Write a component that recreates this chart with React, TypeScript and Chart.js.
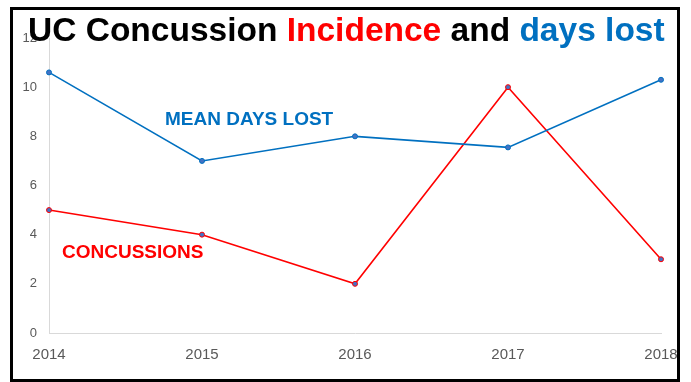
import React, { useEffect, useRef } from "react";
import { Chart, registerables } from "chart.js";

Chart.register(...registerables);

const years = ["2014", "2015", "2016", "2017", "2018"];
const meanDaysLost = [10.6, 7, 8, 7.55, 10.3];
const concussions = [5, 4, 2, 10, 3];
const yTicks = { min: 0, max: 12, step: 2 };

const titleParts: [string, string][] = [
  ["UC Concussion ", "#000000"],
  ["Incidence", "#FF0000"],
  [" and ", "#000000"],
  ["days lost", "#0070C0"],
];

const BLUE = "#0070C0";
const RED = "#FF0000";

const overlayPlugin = {
  id: "overlayText",
  afterDraw(chart: any) {
    const ctx = chart.ctx;
    ctx.save();
    ctx.textBaseline = "alphabetic";
    ctx.textAlign = "left";
    // title
    ctx.font = "bold 33.5px 'Liberation Sans', Arial, sans-serif";
    let x = 28;
    for (const [t, c] of titleParts) {
      ctx.fillStyle = c;
      ctx.fillText(t, x, 41);
      x += ctx.measureText(t).width;
    }
    // series labels
    ctx.font = "bold 19px 'Liberation Sans', Arial, sans-serif";
    ctx.fillStyle = BLUE;
    ctx.fillText("MEAN DAYS LOST", 165, 125);
    ctx.fillStyle = RED;
    ctx.fillText("CONCUSSIONS", 62, 258);
    ctx.restore();
  },
};

export default function App() {
  const ref = useRef<HTMLCanvasElement>(null);
  useEffect(() => {
    if (!ref.current) return;
    const chart = new Chart(ref.current, {
      type: "line",
      data: {
        labels: years,
        datasets: [
          {
            label: "Mean days lost",
            data: meanDaysLost,
            borderColor: BLUE,
            backgroundColor: BLUE,
            borderWidth: 1.6,
            pointRadius: 2.5,
            pointBorderWidth: 1,
            pointBorderColor: BLUE,
            pointBackgroundColor: "#4472C4",
            tension: 0,
          },
          {
            label: "Concussions",
            data: concussions,
            borderColor: RED,
            backgroundColor: RED,
            borderWidth: 1.6,
            pointRadius: 2.5,
            pointBorderWidth: 1,
            pointBorderColor: RED,
            pointBackgroundColor: "#4472C4",
            tension: 0,
          },
        ],
      },
      options: {
        responsive: false,
        animation: false,
        layout: { padding: { top: 38, right: 30, left: 0, bottom: 0 } },
        plugins: {
          legend: { display: false },
          title: { display: false },
          tooltip: { enabled: false },
        },
        scales: {
          x: {
            offset: false,
            grid: { display: false, drawTicks: false },
            border: { display: true, color: "#D9D9D9", width: 1 },
            ticks: {
              color: "#595959",
              font: { family: "'Liberation Sans', Arial, sans-serif", size: 15 },
              padding: 13,
              maxRotation: 0,
              autoSkip: false,
            },
            afterFit(scale: any) {
              scale.height = 49;
            },
          },
          y: {
            min: yTicks.min,
            max: yTicks.max,
            grid: { display: false, drawTicks: false },
            border: { display: true, color: "#D9D9D9", width: 1 },
            ticks: {
              stepSize: yTicks.step,
              color: "#595959",
              font: { family: "'Liberation Sans', Arial, sans-serif", size: 13 },
              padding: 12,
            },
            afterFit(scale: any) {
              scale.width = 49;
            },
          },
        },
      },
      plugins: [overlayPlugin],
    });
    return () => chart.destroy();
  }, []);

  return (
    <div style={{ position: "fixed", left: 0, top: 0, width: 691, height: 382, background: "#fff" }}>
      <canvas ref={ref} width={691} height={382} style={{ display: "block" }} />
      <div
        style={{
          position: "absolute",
          left: 10,
          top: 7,
          width: 670,
          height: 375,
          border: "3px solid #000",
          boxSizing: "border-box",
          pointerEvents: "none",
        }}
      />
    </div>
  );
}
